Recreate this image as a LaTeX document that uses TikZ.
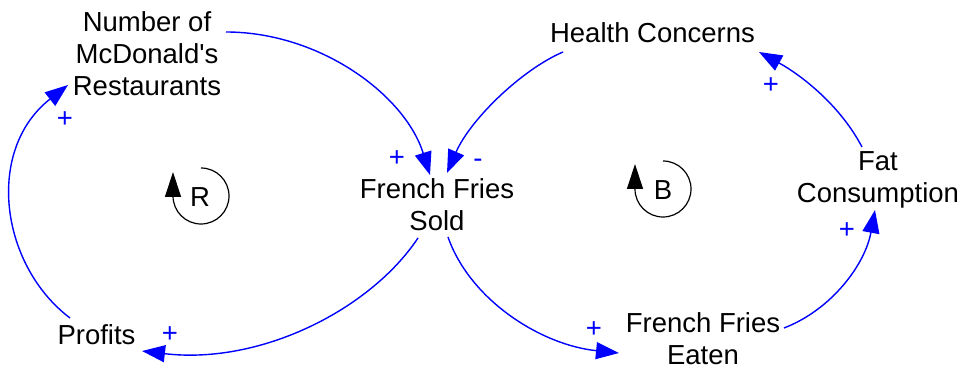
\documentclass[tikz,border=0pt]{standalone}
\usepackage{fontspec}
\setmainfont{Liberation Sans}[Ligatures=TeXOff]
\usetikzlibrary{arrows.meta}
\definecolor{linkblue}{RGB}{0,0,255}
\tikzset{
  var/.style={inner sep=0pt, align=center, font=\fontsize{27.5}{32}\selectfont},
  link/.style={draw=linkblue, line width=1.4pt, -{Triangle[length=23pt,width=17pt]}, fill=none},
  pol/.style={text=linkblue, inner sep=0pt, anchor=base, font=\fontsize{27.5}{32}\selectfont},
  loopmark/.style={draw=black, line width=1.2pt, -{Triangle[length=25pt,width=16pt]}},
  looplabel/.style={inner sep=0pt, font=\fontsize{27.5}{32}\selectfont}
}
\begin{document}
\begin{tikzpicture}[x=1pt,y=1pt]
\useasboundingbox (0,0) rectangle (970,369);
% variables
\node[var] (num) at (147,314.9) {Number of\\McDonald's\\Restaurants};
\node[var] (ffs) at (437,163.9) {French Fries\\Sold};
\node[var] (hc)  at (652.5,335.9) {Health Concerns};
\node[var] (fc)  at (878,189.5) {Fat\\Consumption};
\node[var] (pr)  at (96.5,33.9) {Profits};
\node[var] (ffe) at (703,29.9) {French Fries\\Eaten};
% links
\draw[link] ([shift={(79,22.1)}]num.center) .. controls +(94,0) and +(-25,80) .. ([shift={(-7,30.1)}]ffs.center);
\draw[link] ([shift={(-89.5,-18.9)}]hc.center) .. controls +(-42,-18) and +(23,53) .. ([shift={(10,32.1)}]ffs.center);
\draw[link] ([shift={(-19,-32.9)}]ffs.center) .. controls +(-48,-72) and +(118,-14) .. ([shift={(45.5,-15.9)}]pr.center);
\draw[link] ([shift={(-26.5,17.1)}]pr.center) .. controls +(-70,53) and +(-83,-65) .. ([shift={(-79,-30.9)}]num.center);
\draw[link] ([shift={(11,-31.9)}]ffs.center) .. controls +(22,-63) and +(-78,8) .. ([shift={(-84,-13.9)}]ffe.center);
\draw[link] ([shift={(81,11.1)}]ffe.center) .. controls +(47,18) and +(-10,-55) .. ([shift={(-3,-30.5)}]fc.center);
\draw[link] ([shift={(-16,32.5)}]fc.center) .. controls +(-22,42) and +(42,-23) .. ([shift={(106.5,-18.9)}]hc.center);
% polarities
\node[pol] (p1) at (397,202.3) {+};
\node[pol] (p2) at (478,201.6) {-};
\node[pol] (p3) at (170,26.3) {+};
\node[pol] (p4) at (65,241.3) {+};
\node[pol] (p5) at (594,31.3) {+};
\node[pol] (p6) at (847,130.3) {+};
\node[pol] (p7) at (771,275.3) {+};
% loop markers
\coordinate (rc) at (201,173);
\draw[loopmark] ([shift={(0,28)}]rc) arc[start angle=90, end angle=-180, radius=28] -- ++(0,24);
\node[looplabel] (rl) at (200,172) {R};
\coordinate (bc) at (663,180);
\draw[loopmark] ([shift={(0,28)}]bc) arc[start angle=90, end angle=-180, radius=28] -- ++(0,25);
\node[looplabel] (bl) at (663,179) {B};
\end{tikzpicture}
\end{document}
